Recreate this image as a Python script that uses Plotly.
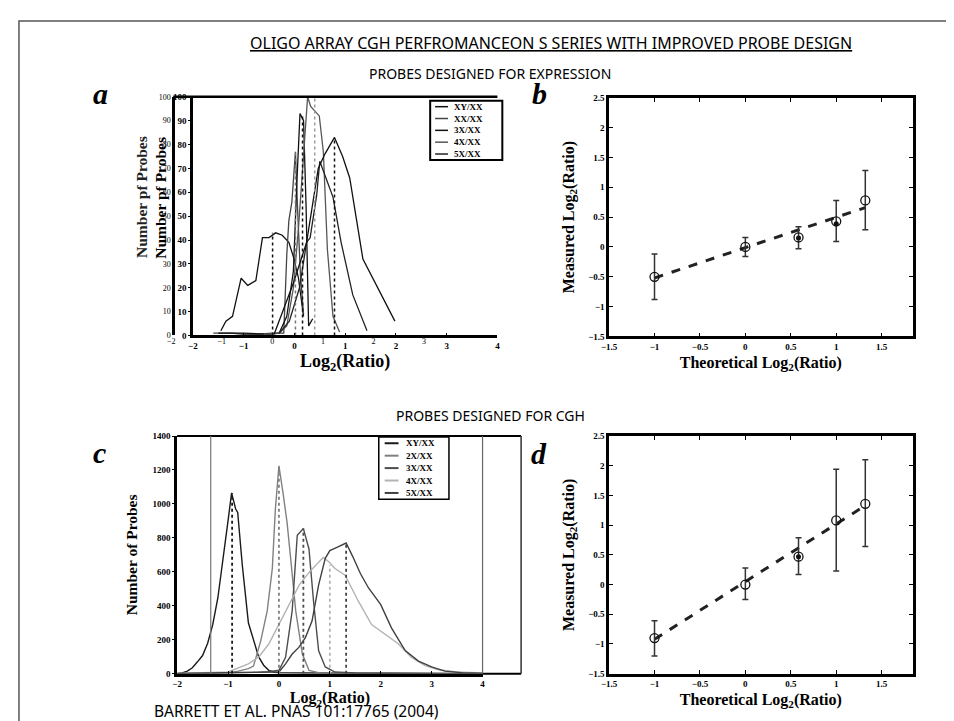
import plotly.graph_objects as go

W, H = 954, 721

# ---------------- DATA ----------------
series_names_a = ["XY/XX", "XX/XX", "3X/XX", "4X/XX", "5X/XX"]
a_xy_x = [-1.45, -1.35, -1.22, -1.05, -0.92, -0.76, -0.63, -0.50, -0.37, -0.24, -0.11, -0.02, 0.08, 0.18]
a_xy_y = [2, 6, 8, 24, 21, 23, 41, 41, 43, 42, 39, 33, 24, 8]
a_xx_x = [-1.6, -1.25, -1.0, -0.7, -0.45, -0.3, -0.21, -0.15, -0.11, -0.05, 0.02, 0.06, 0.12, 0.18]
a_xx_y = [1, 1, 0.5, 0.5, 1, 1, 1, 34, 48, 56, 77, 54, 25, 9]
a_3x_x = [-1.5, -1.0, -0.5, -0.3, -0.15, -0.02, 0.05, 0.11, 0.18, 0.23, 0.28, 0.36]
a_3x_y = [1, 1, 0.5, 1, 8, 27, 65, 93, 90, 54, 4, 7]
a_4x_x = [-0.6, -0.3, -0.15, -0.02, 0.08, 0.18, 0.26, 0.32, 0.49, 0.57, 0.65, 0.76, 0.89]
a_4x_y = [0.5, 1, 4, 20, 45, 77, 100, 96, 92, 77, 36, 8, 1.4]
a_5x_x = [-0.3, -0.1, 0.1, 0.24, 0.31, 0.44, 0.5, 0.76, 0.92, 1.15, 1.43]
a_5x_y = [1, 6, 20, 39, 41, 59, 73, 58, 39, 17, 2]
a_6x_x = [-0.4, -0.02, 0.24, 0.47, 0.6, 0.79, 0.95, 1.09, 1.35, 1.67, 1.98]
a_6x_y = [0.5, 22, 39, 70, 76, 83, 75, 66, 32, 19, 6]
a_peak_x = [-0.43, 0.02, 0.16, 0.40, 0.79]
a_peak_y = [43, 77, 92, 100, 83]

series_names_c = ["XY/XX", "2X/XX", "3X/XX", "4X/XX", "5X/XX"]
c_xy_x = [-2.0, -1.9, -1.8, -1.7, -1.6, -1.5, -1.4, -1.3, -1.2, -1.1, -1.0, -0.93, -0.85, -0.81, -0.72, -0.6, -0.5, -0.4, -0.3, -0.2, -0.1, 0.0, 0.5, 1.0, 2.0, 3.0, 4.0]
c_xy_y = [0, 5, 15, 35, 70, 107, 180, 290, 446, 660, 900, 1065, 970, 950, 640, 300, 200, 100, 50, 20, 10, 6, 4, 3, 2, 1, 0]
c_2x_x = [-2.0, -1.5, -1.0, -0.8, -0.6, -0.5, -0.36, -0.23, -0.13, -0.07, 0.0, 0.08, 0.16, 0.23, 0.33, 0.46, 0.59, 0.8, 1.5, 2.5, 4.0]
c_2x_y = [0, 2, 5, 15, 30, 45, 190, 370, 620, 970, 1225, 1065, 890, 680, 370, 116, 20, 5, 3, 2, 0]
c_3x_x = [-2.0, -1.0, -0.5, -0.2, 0.0, 0.13, 0.26, 0.36, 0.48, 0.59, 0.68, 0.78, 0.91, 1.1, 1.5, 2.0, 3.0, 4.0]
c_3x_y = [0, 3, 8, 12, 20, 97, 370, 815, 855, 735, 425, 135, 40, 10, 4, 3, 2, 0]
c_4x_x = [-2.0, -1.5, -1.0, -0.6, -0.4, -0.2, 0.0, 0.2, 0.4, 0.6, 0.87, 0.98, 1.1, 1.3, 1.56, 1.82, 2.08, 2.35, 2.6, 2.87, 3.13, 3.5, 4.0]
c_4x_y = [2, 5, 10, 58, 97, 175, 290, 407, 523, 600, 685, 660, 620, 580, 427, 290, 233, 175, 97, 48, 23, 10, 4]
c_5x_x = [-2.0, -1.0, -0.5, 0.0, 0.13, 0.26, 0.39, 0.52, 0.65, 0.78, 0.91, 1.0, 1.15, 1.32, 1.45, 1.6, 1.76, 1.9, 2.0, 2.21, 2.48, 2.74, 3.0, 3.26, 3.6, 4.0]
c_5x_y = [2, 4, 6, 10, 58, 116, 155, 213, 310, 523, 680, 725, 745, 770, 690, 590, 505, 450, 407, 270, 136, 74, 40, 15, 6, 3]
c_peak_x = [-0.92, 0.0, 0.48, 1.0, 1.32]
c_peak_y = [1065, 1220, 855, 640, 770]

theory = [-1.0, 0.0, 0.585, 1.0, 1.32]
b_meas = [-0.50, 0.0, 0.16, 0.43, 0.78]
b_err_plus = [0.38, 0.16, 0.18, 0.35, 0.50]
b_err_minus = [0.38, 0.16, 0.19, 0.34, 0.49]
b_dot_x = [0.585, 1.0]
b_dot_y = [0.15, 0.39]
b_fit_x = [-1.0, 1.32]
b_fit_y = [-0.52, 0.66]

d_meas = [-0.90, 0.0, 0.47, 1.08, 1.36]
d_err_plus = [0.29, 0.28, 0.32, 0.86, 0.74]
d_err_minus = [0.30, 0.25, 0.30, 0.85, 0.72]
d_dot_x = [0.585]
d_dot_y = [0.47]
d_fit_x = [-1.0, 1.32]
d_fit_y = [-0.92, 1.33]

hist_x_ticks = [-2, -1, 0, 1, 2, 3, 4]
ghost_x_ticks = [-2, -1, 0, 1, 2, 3]
a_y_ticks = [0, 10, 20, 30, 40, 50, 60, 70, 80, 90, 100]
c_y_ticks = [0, 200, 400, 600, 800, 1000, 1200, 1400]
bd_x_ticks = [-1.5, -1, -0.5, 0, 0.5, 1, 1.5]
bd_y_ticks = [-1.5, -1, -0.5, 0, 0.5, 1, 1.5, 2, 2.5]

# ---------------- helpers ----------------
def px(x):
    return x / W

def py(y):
    return 1 - y / H

SERIF = "Liberation Serif"
SANS = "Noto Sans"
tickfont = dict(family=SERIF, size=9, color="black", weight="bold")
ghostfont = dict(family=SERIF, size=8, color="black")

fig = go.Figure()

# ---- panel a curves
a_colors = ["#111", "#444", "#111", "#555", "#222", "#111"]
a_sets = [(a_xy_x, a_xy_y), (a_xx_x, a_xx_y), (a_3x_x, a_3x_y), (a_4x_x, a_4x_y), (a_5x_x, a_5x_y), (a_6x_x, a_6x_y)]
for i, (xs, ys) in enumerate(a_sets):
    fig.add_trace(go.Scatter(x=xs, y=ys, mode="lines", line=dict(color=a_colors[i], width=1.3),
                             xaxis="x", yaxis="y", showlegend=False, hoverinfo="skip"))
a_peak_colors = ["#111", "#777", "#111", "#999", "#111"]
for k in range(len(a_peak_x)):
    fig.add_trace(go.Scatter(x=[a_peak_x[k], a_peak_x[k]], y=[0, a_peak_y[k]], mode="lines",
                             line=dict(color=a_peak_colors[k], width=1.5, dash="dot"),
                             xaxis="x", yaxis="y", showlegend=False, hoverinfo="skip"))

# ---- panel c curves
c_colors = ["#1a1a1a", "#808080", "#4d4d4d", "#b3b3b3", "#404040"]
c_sets = [(c_xy_x, c_xy_y), (c_2x_x, c_2x_y), (c_3x_x, c_3x_y), (c_4x_x, c_4x_y), (c_5x_x, c_5x_y)]
for i, (xs, ys) in enumerate(c_sets):
    fig.add_trace(go.Scatter(x=xs, y=ys, mode="lines", line=dict(color=c_colors[i], width=1.4),
                             xaxis="x3", yaxis="y3", showlegend=False, hoverinfo="skip"))
for k in range(len(c_peak_x)):
    fig.add_trace(go.Scatter(x=[c_peak_x[k], c_peak_x[k]], y=[0, c_peak_y[k]], mode="lines",
                             line=dict(color=c_colors[k], width=1.8, dash="dot"),
                             xaxis="x3", yaxis="y3", showlegend=False, hoverinfo="skip"))

# ---- panels b and d
for (meas, ep, em, dx, dy, fx, fy, xa, ya) in [
    (b_meas, b_err_plus, b_err_minus, b_dot_x, b_dot_y, b_fit_x, b_fit_y, "x2", "y2"),
    (d_meas, d_err_plus, d_err_minus, d_dot_x, d_dot_y, d_fit_x, d_fit_y, "x4", "y4"),
]:
    fig.add_trace(go.Scatter(x=fx, y=fy, mode="lines", line=dict(color="#222", width=3, dash="dash"),
                             xaxis=xa, yaxis=ya, showlegend=False, hoverinfo="skip"))
    fig.add_trace(go.Scatter(x=theory, y=meas, mode="markers",
                             marker=dict(symbol="circle-open", size=9, color="#111", line=dict(width=1.3)),
                             error_y=dict(type="data", symmetric=False, array=ep, arrayminus=em,
                                          color="#333", thickness=1.5, width=3),
                             xaxis=xa, yaxis=ya, showlegend=False, hoverinfo="skip"))
    fig.add_trace(go.Scatter(x=dx, y=dy, mode="markers", marker=dict(symbol="circle", size=5, color="#111"),
                             xaxis=xa, yaxis=ya, showlegend=False, hoverinfo="skip"))

# invisible trace to activate the ghost axes of panel a
fig.add_trace(go.Scatter(x=[-2], y=[0], mode="markers", marker=dict(opacity=0), xaxis="x5", yaxis="y5",
                         showlegend=False, hoverinfo="skip"))

# ---------------- axes ----------------
A = dict(l=179, r=487, t=85, b=327)
A2 = dict(l=157, r=464)
B = dict(l=600, r=907, t=86, b=328)
C = dict(l=163, r=472, t=429, b=670)
D = dict(l=600, r=907, t=429, b=670)

def common(**kw):
    base = dict(showgrid=False, zeroline=False, tickfont=tickfont, color="black")
    base.update(kw)
    return base

fig.update_layout(
    xaxis=common(domain=[px(A["l"]), px(A["r"])], range=[-2, 4], anchor="y", tickvals=hist_x_ticks,
                 showline=True, linewidth=2.5, linecolor="black", ticks="inside", ticklen=3,
                 title=dict(text="<b>Log<sub>2</sub>(Ratio)</b>", font=dict(family=SERIF, size=18), standoff=3)),
    yaxis=common(domain=[py(A["b"]), py(A["t"])], range=[0, 100], anchor="x", tickvals=a_y_ticks,
                 showline=True, linewidth=2.5, linecolor="black", ticks="outside", ticklen=2),
    xaxis5=common(domain=[px(A2["l"]), px(A2["r"])], range=[-2, 4], anchor="y5", tickvals=ghost_x_ticks,
                  showline=False, ticks="", tickfont=ghostfont),
    yaxis5=common(domain=[py(A["b"]), py(A["t"])], range=[0, 100], anchor="free", position=px(159),
                  tickvals=a_y_ticks, showline=True, linewidth=2.5, linecolor="black", ticks="",
                  tickfont=ghostfont),
    xaxis2=common(domain=[px(B["l"]), px(B["r"])], range=[-1.5, 1.84], anchor="y2", tickvals=bd_x_ticks,
                  showline=True, linewidth=2.5, linecolor="black", mirror="ticks", ticks="inside", ticklen=4,
                  title=dict(text="<b>Theoretical Log<sub>2</sub>(Ratio)</b>", font=dict(family=SERIF, size=16), standoff=6)),
    yaxis2=common(domain=[py(B["b"]), py(B["t"])], range=[-1.5, 2.5], anchor="x2", tickvals=bd_y_ticks,
                  showline=True, linewidth=2.5, linecolor="black", mirror="ticks", ticks="inside", ticklen=4,
                  title=dict(text="<b>Measured Log<sub>2</sub>(Ratio)</b>", font=dict(family=SERIF, size=16), standoff=10)),
    xaxis3=common(domain=[px(C["l"]), px(C["r"])], range=[-2, 4], anchor="y3", tickvals=hist_x_ticks,
                  showline=True, linewidth=2.5, linecolor="black", ticks="inside", ticklen=3,
                  title=dict(text="<b>Log<sub>2</sub>(Ratio)</b>", font=dict(family=SERIF, size=16), standoff=4)),
    yaxis3=common(domain=[py(C["b"]), py(C["t"])], range=[0, 1400], anchor="x3", tickvals=c_y_ticks,
                  showline=True, linewidth=2.5, linecolor="black", ticks="outside", ticklen=2,
                  title=dict(text="<b>Number of Probes</b>", font=dict(family=SERIF, size=15.5), standoff=12)),
    xaxis4=common(domain=[px(D["l"]), px(D["r"])], range=[-1.5, 1.84], anchor="y4", tickvals=bd_x_ticks,
                  showline=True, linewidth=2.5, linecolor="black", mirror="ticks", ticks="inside", ticklen=4,
                  title=dict(text="<b>Theoretical Log<sub>2</sub>(Ratio)</b>", font=dict(family=SERIF, size=16), standoff=6)),
    yaxis4=common(domain=[py(D["b"]), py(D["t"])], range=[-1.5, 2.5], anchor="x4", tickvals=bd_y_ticks,
                  showline=True, linewidth=2.5, linecolor="black", mirror="ticks", ticks="inside", ticklen=4,
                  title=dict(text="<b>Measured Log<sub>2</sub>(Ratio)</b>", font=dict(family=SERIF, size=16), standoff=10)),
)

shapes = []
# outer frame
shapes.append(dict(type="rect", xref="paper", yref="paper", x0=px(3), x1=px(950), y0=py(725), y1=py(8),
                   line=dict(color="#555", width=1.5)))
# panel a top border
shapes.append(dict(type="line", xref="paper", yref="paper", x0=px(159), x1=px(487), y0=py(85), y1=py(85),
                   line=dict(color="black", width=2.5)))
# panel c frame of the pasted image: top, bottom extension, right edge, grey inner lines
shapes.append(dict(type="line", xref="paper", yref="paper", x0=px(163), x1=px(511), y0=py(429), y1=py(429),
                   line=dict(color="black", width=2)))
shapes.append(dict(type="line", xref="paper", yref="paper", x0=px(472), x1=px(511), y0=py(670), y1=py(670),
                   line=dict(color="black", width=2)))
shapes.append(dict(type="line", xref="paper", yref="paper", x0=px(511), x1=px(511), y0=py(429), y1=py(670),
                   line=dict(color="#333", width=1.5)))
shapes.append(dict(type="line", xref="paper", yref="paper", x0=px(472), x1=px(472), y0=py(429), y1=py(670),
                   line=dict(color="#666", width=1.2)))
shapes.append(dict(type="line", xref="paper", yref="paper", x0=px(197), x1=px(197), y0=py(429), y1=py(670),
                   line=dict(color="#777", width=1.2)))

annotations = []
def ann(text, x, y, size, family=SANS, color="black", xanchor="center", yanchor="middle", angle=0):
    annotations.append(dict(text=text, x=px(x), y=py(y), xref="paper", yref="paper", showarrow=False,
                            xanchor=xanchor, yanchor=yanchor, textangle=angle,
                            font=dict(family=family, size=size, color=color)))

ann("<u>OLIGO ARRAY CGH PERFROMANCEON S SERIES WITH IMPROVED PROBE DESIGN</u>", 541, 30, 16)
ann("PROBES DESIGNED FOR EXPRESSION", 480, 61, 14)
ann("PROBES DESIGNED FOR CGH", 480, 408, 14)
ann("BARRETT ET AL. PNAS 101:17765 (2004)", 138, 708, 15.5, xanchor="left")
for letter, x, y in [("a", 85, 82), ("b", 530, 82), ("c", 84, 446), ("d", 529, 447)]:
    ann("<b><i>%s</i></b>" % letter, x, y, 30, family=SERIF)
# doubled y titles of panel a (two overlaid images in the source)
ann("<b>Number pf Probes</b>", 127, 187, 15.5, family=SERIF, color="#222", angle=-90)
ann("<b>Number pf Probes</b>", 146, 187, 15.5, family=SERIF, angle=-90)

# manual legends
def legend_box(x0, y0, x1, y1, names, colors, lw, line_x0, line_x1, text_x, lwidth):
    shapes.append(dict(type="rect", xref="paper", yref="paper", x0=px(x0), x1=px(x1), y0=py(y1), y1=py(y0),
                       line=dict(color="black", width=lw), fillcolor="white", layer="above"))
    n = len(names)
    step = (y1 - y0) / n
    for i, nm in enumerate(names):
        yy = y0 + step * (i + 0.5)
        shapes.append(dict(type="line", xref="paper", yref="paper", x0=px(line_x0), x1=px(line_x1),
                           y0=py(yy), y1=py(yy), line=dict(color=colors[i], width=lwidth)))
        ann("<b>%s</b>" % nm, text_x, yy, 9, family=SERIF, xanchor="left")

legend_box(419, 89, 492, 149, series_names_a, ["#111", "#444", "#111", "#555", "#222"], 2, 424, 437, 441, 1.5)
legend_box(367, 430, 438, 493, series_names_c, c_colors, 1.5, 373, 387, 393, 2)

fig.update_layout(shapes=shapes, annotations=annotations, width=W, height=H, autosize=False,
                  margin=dict(l=0, r=0, t=0, b=0), paper_bgcolor="white", plot_bgcolor="rgba(0,0,0,0)",
                  showlegend=False)

fig.write_html("out.html")
